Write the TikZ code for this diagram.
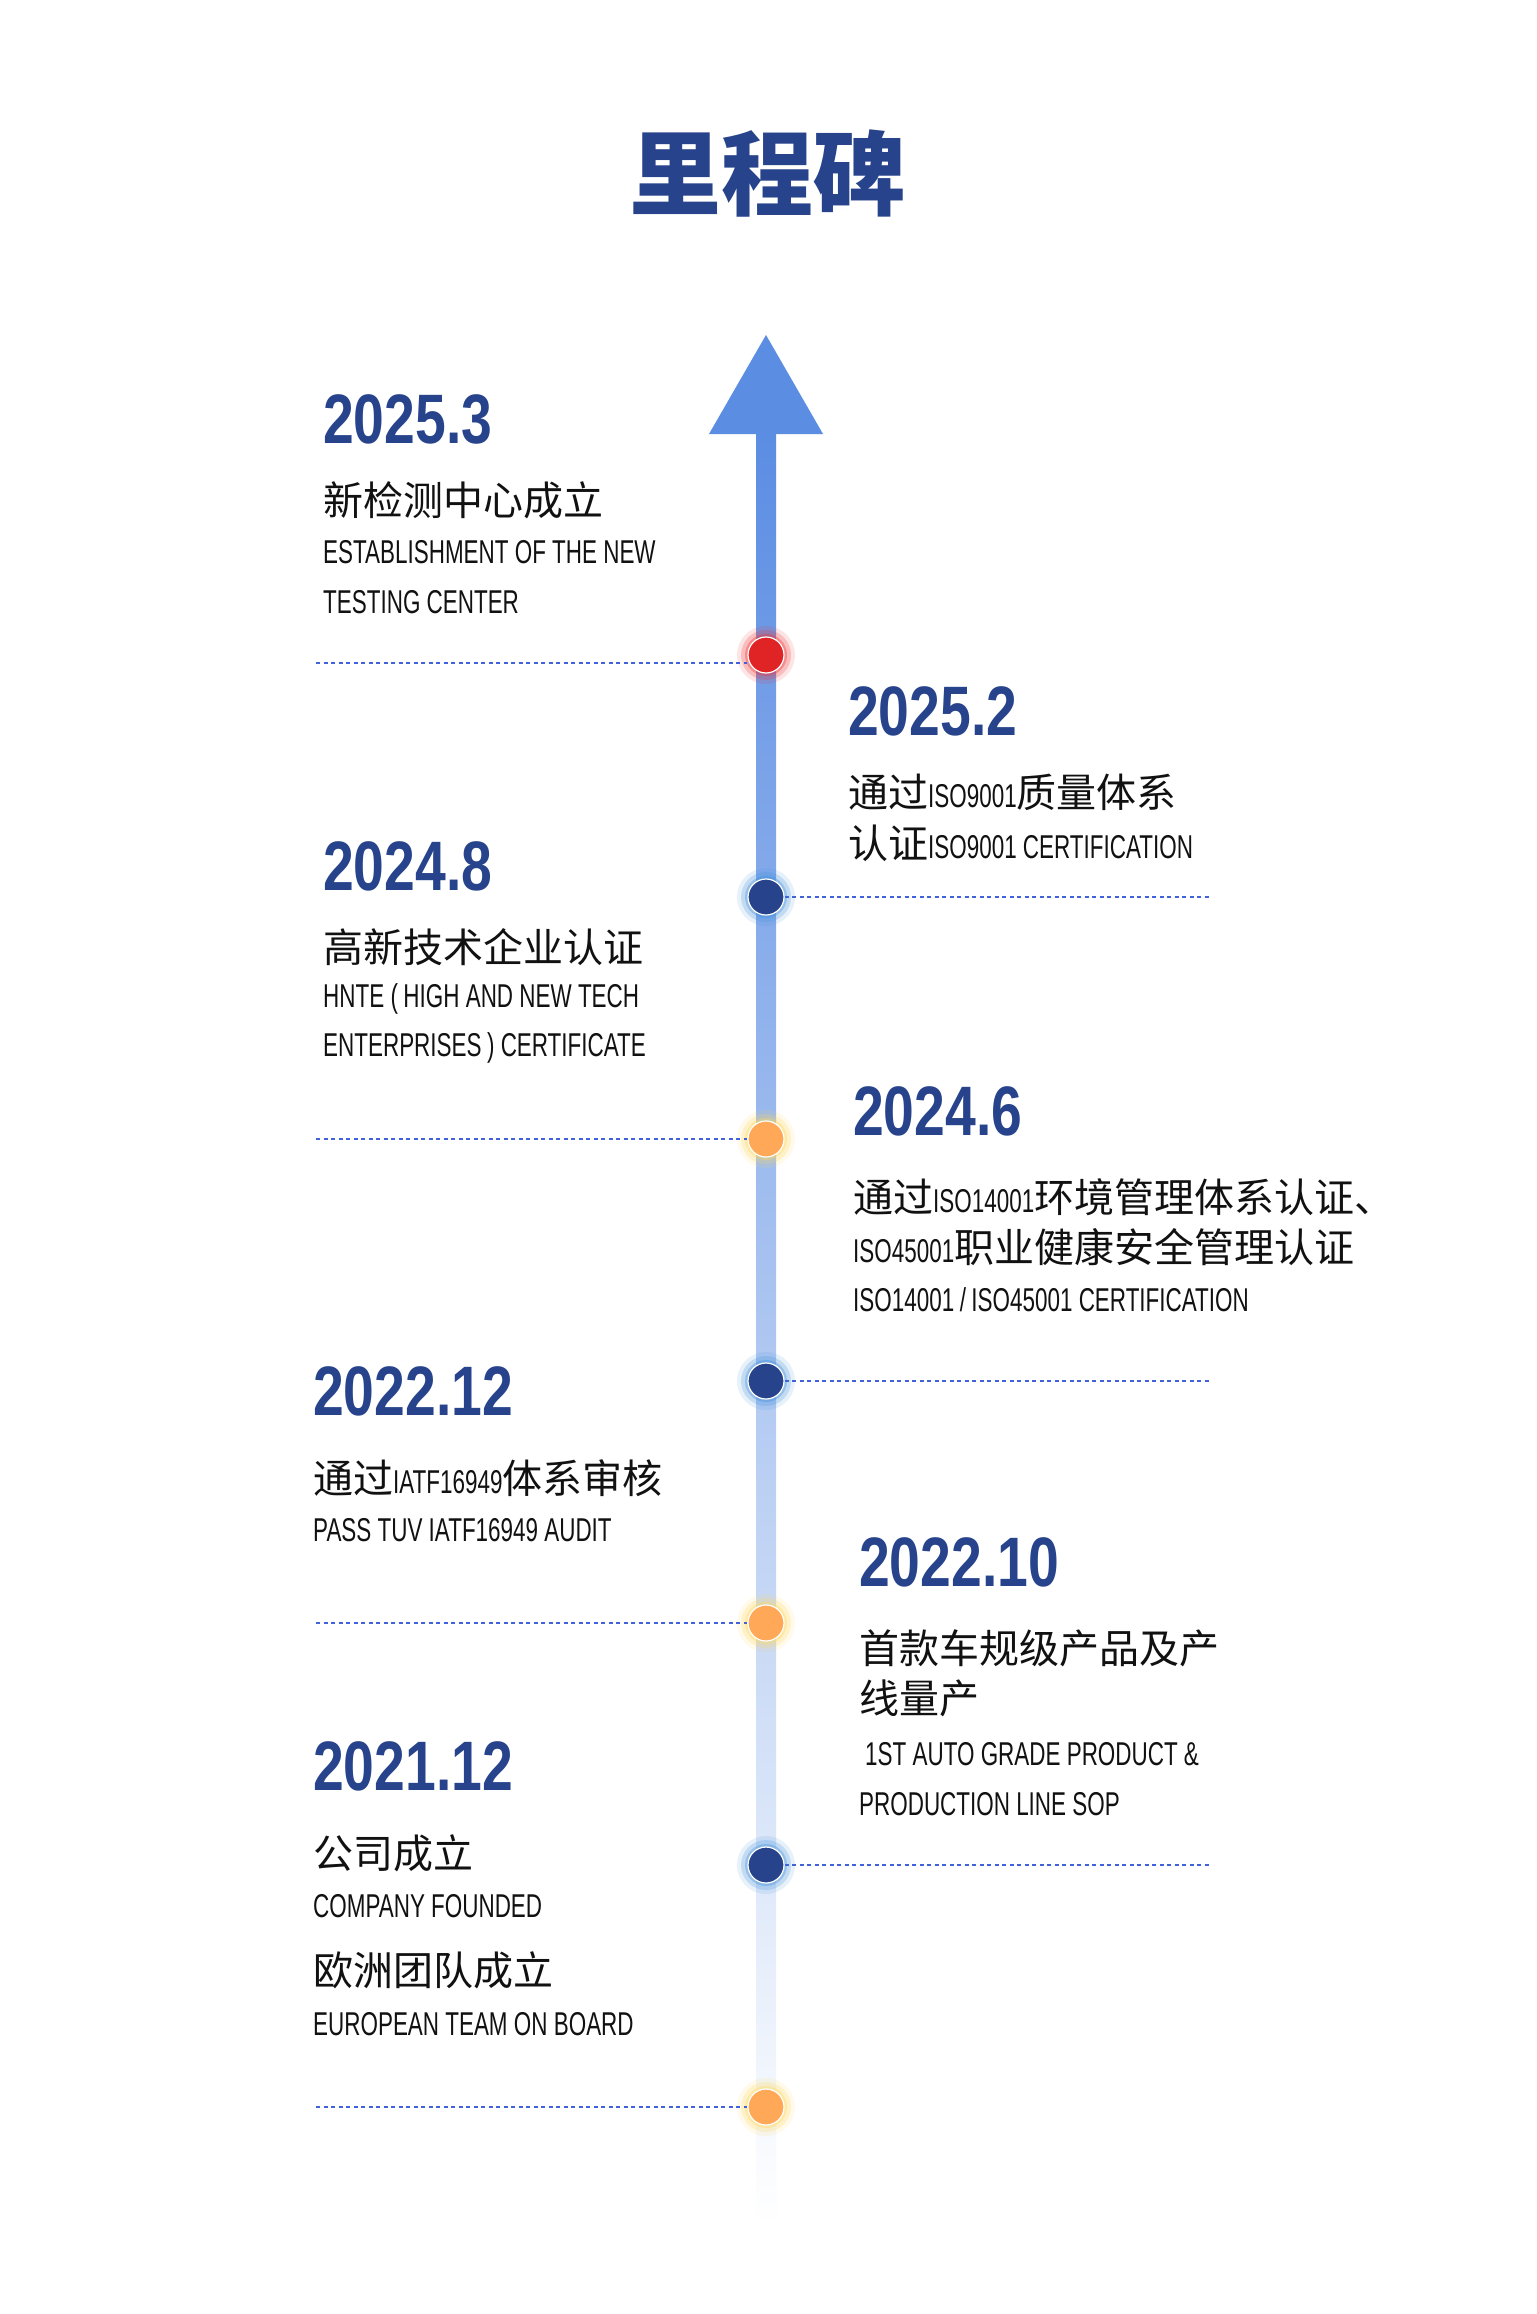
\documentclass[tikz,border=0pt]{standalone}
\usepackage{fontspec}
\newfontfamily\cjk{Noto Sans CJK SC}
\newfontfamily\datef{Liberation Sans}[FakeStretch=0.79]
\newfontfamily\enf{Liberation Sans}[FakeStretch=0.68]
\definecolor{navy}{HTML}{27438B}
\definecolor{barblue}{HTML}{5B8DE3}
\definecolor{barmid}{HTML}{A9BCEE}
\definecolor{dotblue}{HTML}{4262D9}
\definecolor{redc}{HTML}{E02426}
\definecolor{orangec}{HTML}{FFA858}
\definecolor{glowblue}{HTML}{3F8FDA}
\definecolor{glowyellow}{HTML}{FFD85A}
\definecolor{glowred}{HTML}{F03030}
\definecolor{txt}{HTML}{111111}
\newcommand\entxt[1]{{\enf\fontsize{33}{40}\selectfont #1}}
\newcommand\mdot[4]{%
  \fill[#4, opacity=0.12] (766,#2) circle (29pt);
  \fill[#4, opacity=0.22] (766,#2) circle (25pt);
  \fill[#4, opacity=0.35] (766,#2) circle (21pt);
  \node[dotnode, fill=#3] (#1) at (766,#2) {};
}
\tikzset{
  datestyle/.style={anchor=west, inner sep=0pt, text=navy, font=\datef\bfseries\fontsize{70}{84}\selectfont},
  cnstyle/.style={anchor=west, inner sep=0pt, text=txt, font=\cjk\fontsize{40}{48}\selectfont},
  enstyle/.style={anchor=west, inner sep=0pt, text=txt, font=\enf\fontsize{33}{40}\selectfont},
  titlestyle/.style={inner sep=0pt, text=navy, font=\cjk\bfseries\fontsize{92}{100}\selectfont},
  dotnode/.style={circle, minimum size=36pt, inner sep=0pt, draw=white, line width=1.2pt},
  dotline/.style={draw=dotblue, line width=2pt, dash pattern=on 4pt off 3.5pt},
}
\begin{document}
\begin{tikzpicture}[x=1pt, y=-1pt]
\useasboundingbox (0,0) rectangle (1536,2314);
\fill[white] (0,0) rectangle (1536,2314);

\node[titlestyle] (title) at (767,173) {里程碑};

% timeline bar and arrow head
\shade[top color=barblue, middle color=barmid, bottom color=white] (756,434) rectangle (776,2225);
\fill[barblue] (766,335) -- (823,434) -- (709,434) -- cycle;

% block 1
\node[datestyle] (y1) at (323,419) {2025.3};
\node[cnstyle] (c1) at (323,500) {新检测中心成立};
\node[enstyle] (e1a) at (323,552) {ESTABLISHMENT OF THE NEW};
\node[enstyle] (e1b) at (323,602) {TESTING CENTER};

% block 2
\node[datestyle] (y2) at (848,711) {2025.2};
\node[cnstyle] (c2a) at (848,792) {通过\entxt{ISO9001}质量体系};
\node[cnstyle] (c2b) at (848,843) {认证\entxt{ISO9001 CERTIFICATION}};

% block 3
\node[datestyle] (y3) at (323,866) {2024.8};
\node[cnstyle] (c3) at (323,947) {高新技术企业认证};
\node[enstyle] (e3a) at (323,999) {HNTE (\,HIGH AND NEW TECH};
\node[enstyle] (e3b) at (323,1048) {ENTERPRISES\,) CERTIFICATE};

% block 4
\node[datestyle] (y4) at (853,1111) {2024.6};
\node[cnstyle] (c4a) at (853,1197) {通过\entxt{ISO14001}环境管理体系认证、};
\node[cnstyle] (c4b) at (853,1247) {\entxt{ISO45001}职业健康安全管理认证};
\node[enstyle] (e4) at (853,1300) {ISO14001\,/\,ISO45001 CERTIFICATION};

% block 5
\node[datestyle] (y5) at (313,1391) {2022.12};
\node[cnstyle] (c5) at (313,1478) {通过\entxt{IATF16949}体系审核};
\node[enstyle] (e5) at (313,1530) {PASS TUV IATF16949 AUDIT};

% block 6
\node[datestyle] (y6) at (859,1562) {2022.10};
\node[cnstyle] (c6a) at (859,1648) {首款车规级产品及产};
\node[cnstyle] (c6b) at (859,1698) {线量产};
\node[enstyle] (e6a) at (865,1754) {1ST AUTO GRADE PRODUCT \&};
\node[enstyle] (e6b) at (859,1804) {PRODUCTION LINE SOP};

% block 7
\node[datestyle] (y7) at (313,1766) {2021.12};
\node[cnstyle] (c7a) at (313,1853) {公司成立};
\node[enstyle] (e7a) at (313,1906) {COMPANY FOUNDED};
\node[cnstyle] (c7b) at (313,1970) {欧洲团队成立};
\node[enstyle] (e7b) at (313,2024) {EUROPEAN TEAM ON BOARD};

% dots
\mdot{d1}{655}{redc}{glowred}
\mdot{d2}{897}{navy}{glowblue}
\mdot{d3}{1139}{orangec}{glowyellow}
\mdot{d4}{1381}{navy}{glowblue}
\mdot{d5}{1623}{orangec}{glowyellow}
\mdot{d6}{1865}{navy}{glowblue}
\mdot{d7}{2107}{orangec}{glowyellow}

% dotted guide lines
\coordinate (l1) at (316,663);
\coordinate (r2) at (1211,897);
\coordinate (l3) at (316,1139);
\coordinate (r4) at (1211,1381);
\coordinate (l5) at (316,1623);
\coordinate (r6) at (1211,1865);
\coordinate (l7) at (316,2107);
\draw[dotline] (l1) -- (l1 -| d1.west);
\draw[dotline] (d2.east) -- (r2);
\draw[dotline] (l3) -- (d3.west);
\draw[dotline] (d4.east) -- (r4);
\draw[dotline] (l5) -- (d5.west);
\draw[dotline] (d6.east) -- (r6);
\draw[dotline] (l7) -- (d7.west);
\end{tikzpicture}
\end{document}
